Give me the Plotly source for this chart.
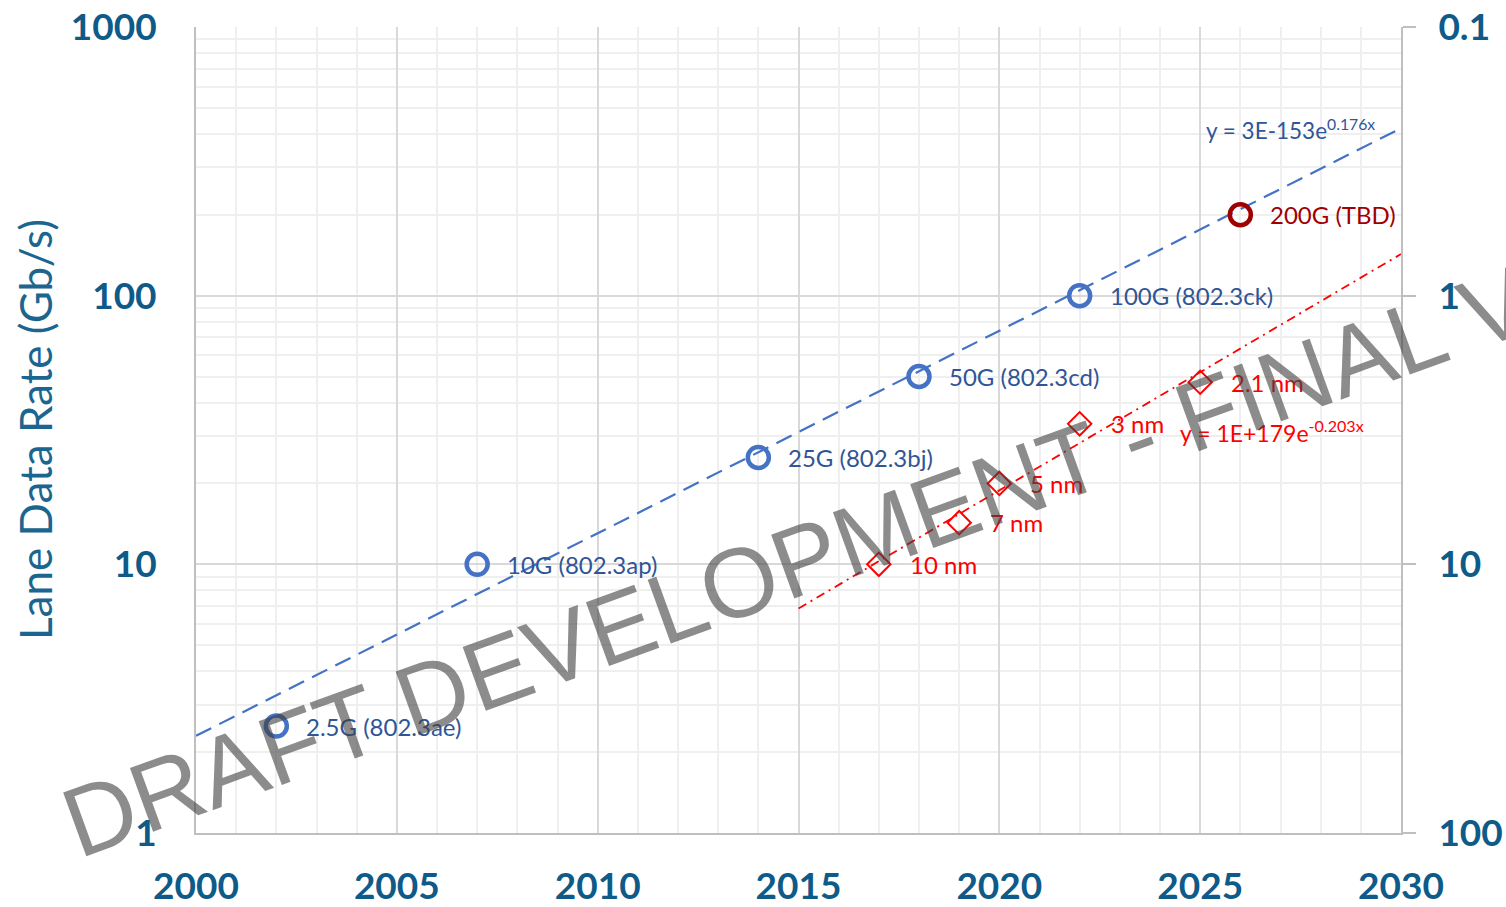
import numpy as np
import plotly.graph_objects as go

# ---- data ----
eth_years = [2002, 2007, 2014, 2018, 2022]
eth_rates = [2.5, 10, 25, 50, 100]
eth_labels = ["2.5G (802.3ae)", "10G (802.3ap)", "25G (802.3bj)", "50G (802.3cd)", "100G (802.3ck)"]

tbd_year = [2026]
tbd_rate = [200]
tbd_label = ["200G (TBD)"]

node_years = [2017, 2019, 2020, 2022, 2025]
node_nm = [10, 7, 5, 3, 2.1]
node_labels = ["10 nm", "7 nm", "5 nm", "3 nm", "2.1 nm"]

# trend lines (end points)
rate_trend_x = [2000, 2030]
rate_trend_y = [2.3, 420]
node_trend_x = [2015, 2030]
node_trend_y = [14.6, 0.70]

x_ticks = [2000, 2005, 2010, 2015, 2020, 2025, 2030]
y_ticks = [1, 10, 100, 1000]
y2_ticks = [0.1, 1, 10, 100]

TICK_COLOR = "#0E5A88"
BLUE = "#4472C4"
BLUE_TXT = "#2F5597"
RED = "#FF0000"
DARKRED = "#A00000"
FONT_TICK = "Lato"
LBL_SIZE = 24

minor_y = [m * 10 ** d for d in range(0, 3) for m in range(2, 10)]

fig = go.Figure()

fig.add_trace(go.Scatter(x=rate_trend_x, y=rate_trend_y, mode="lines",
                         line=dict(color=BLUE, width=2.2, dash="17px,9px"),
                         hoverinfo="skip", showlegend=False))
fig.add_trace(go.Scatter(x=node_trend_x, y=node_trend_y, mode="lines", yaxis="y2",
                         line=dict(color=RED, width=1.8, dash="9px,5px,2px,5px"),
                         hoverinfo="skip", showlegend=False))
fig.add_trace(go.Scatter(x=eth_years, y=eth_rates, mode="markers",
                         marker=dict(symbol="circle-open", size=21, color=BLUE,
                                     line=dict(color=BLUE, width=4.5)),
                         showlegend=False))
fig.add_trace(go.Scatter(x=tbd_year, y=tbd_rate, mode="markers",
                         marker=dict(symbol="circle-open", size=21, color=DARKRED,
                                     line=dict(color=DARKRED, width=4.5)),
                         showlegend=False))
fig.add_trace(go.Scatter(x=node_years, y=node_nm, mode="markers", yaxis="y2",
                         marker=dict(symbol="diamond-open", size=18, color=RED,
                                     line=dict(color=RED, width=2)),
                         showlegend=False))

annotations = []
for x, y, t in zip(eth_years, eth_rates, eth_labels):
    annotations.append(dict(x=x, y=np.log10(y), xref="x", yref="y", text=t,
                            showarrow=False, xanchor="left", yanchor="middle", xshift=28,
                            font=dict(family="Lato", size=LBL_SIZE, color=BLUE_TXT)))
for x, y, t in zip(tbd_year, tbd_rate, tbd_label):
    annotations.append(dict(x=x, y=np.log10(y), xref="x", yref="y", text=t,
                            showarrow=False, xanchor="left", yanchor="middle", xshift=28,
                            font=dict(family="Lato", size=LBL_SIZE, color=DARKRED)))
for x, y, t in zip(node_years, node_nm, node_labels):
    annotations.append(dict(x=x, y=np.log10(y), xref="x", yref="y2", text=t,
                            showarrow=False, xanchor="left", yanchor="middle", xshift=29,
                            font=dict(family="Lato", size=LBL_SIZE, color=RED)))

annotations.append(dict(x=2025.1, y=2.62, xref="x", yref="y", text="y = 3E-153e<sup>0.176x</sup>",
                        showarrow=False, xanchor="left", yanchor="middle",
                        font=dict(family="Lato", size=22.5, color=BLUE_TXT)))
annotations.append(dict(x=2024.45, y=1.494, xref="x", yref="y", text="y = 1E+179e<sup>-0.203x</sup>",
                        showarrow=False, xanchor="left", yanchor="middle",
                        font=dict(family="Lato", size=23, color=RED)))

annotations.append(dict(x=-0.1336, y=0.5, xref="paper", yref="paper", text="Lane Data Rate (Gb/s)",
                        showarrow=False, textangle=-90, xanchor="center", yanchor="middle",
                        font=dict(family="Lato", size=44, color="#1B6690")))

annotations.append(dict(x=0.6455, y=0.4166, xref="paper", yref="paper",
                        text="DRAFT DEVELOPMENT - FINAL VERSION",
                        showarrow=False, textangle=-20, xanchor="center", yanchor="middle",
                        font=dict(family="Liberation Sans", size=98.5, color="rgba(64,64,64,0.6)")))

fig.update_layout(
    width=1506, height=907,
    margin=dict(l=196, r=105, t=27, b=74),
    plot_bgcolor="white", paper_bgcolor="white",
    annotations=annotations,
    xaxis=dict(range=[2000, 2030], tickvals=x_ticks, ticktext=[str(v) for v in x_ticks],
               showgrid=True, gridcolor="#D9D9D9", gridwidth=1.5,
               minor=dict(dtick=1, tick0=2000, showgrid=True, gridcolor="#EFEFEF", gridwidth=1.5),
               showline=True, linecolor="#BFBFBF", linewidth=2, zeroline=False,
               ticks="", ticklabelstandoff=20, automargin=False,
               tickfont=dict(family=FONT_TICK, size=37, color=TICK_COLOR, weight="bold")),
    yaxis=dict(type="log", range=[0, 3], tickvals=y_ticks, ticktext=["1", "10", "100", "1000"],
               showgrid=True, gridcolor="#D9D9D9", gridwidth=1.5,
               minor=dict(tickvals=minor_y, showgrid=True, gridcolor="#EFEFEF", gridwidth=1.5),
               showline=True, linecolor="#BFBFBF", linewidth=2, zeroline=False,
               ticks="", ticklabelstandoff=30, automargin=False,
               tickfont=dict(family=FONT_TICK, size=37, color=TICK_COLOR, weight="bold")),
    yaxis2=dict(type="log", range=[2, -1], overlaying="y", side="right",
                tickvals=y2_ticks, ticktext=["0.1", "1", "10", "100"],
                showgrid=False, showline=True, linecolor="#BFBFBF", linewidth=2,
                ticks="outside", ticklen=13, tickcolor="#BFBFBF", tickwidth=2,
                ticklabelstandoff=15, zeroline=False, automargin=False,
                tickfont=dict(family=FONT_TICK, size=37, color=TICK_COLOR, weight="bold")),
)

fig.write_html("out.html", config={"displayModeBar": False},
               post_script="document.body.style.margin='0';")
